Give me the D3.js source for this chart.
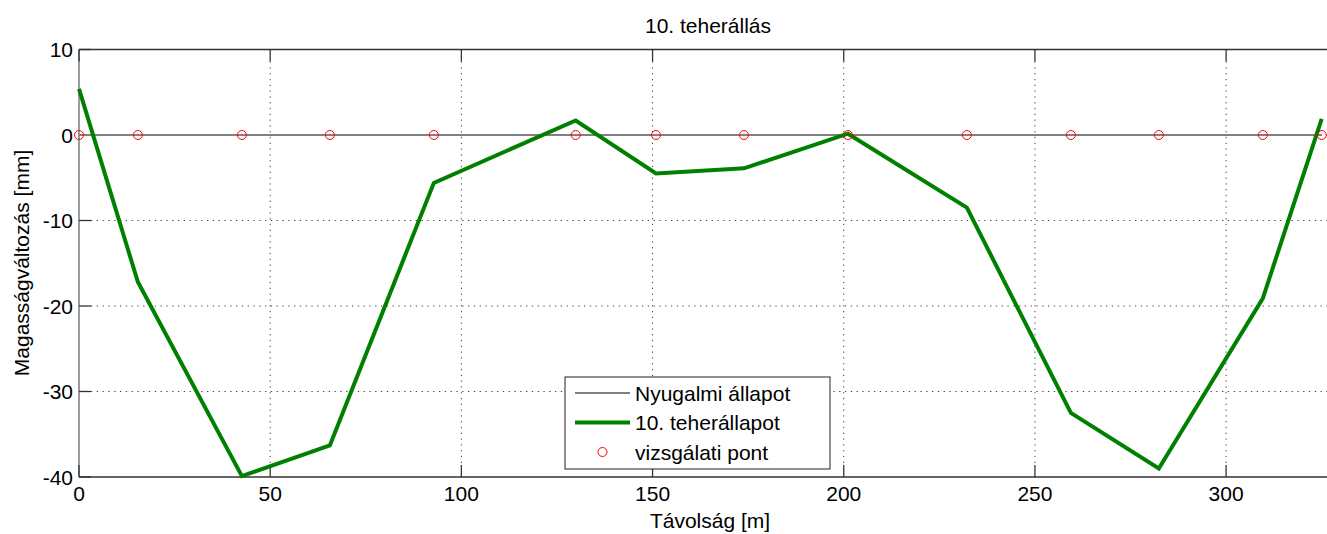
<!DOCTYPE html>
<html>
<head>
<meta charset="utf-8">
<script src="https://cdn.jsdelivr.net/npm/d3@7"></script>
<style>
	body { margin: 0; background: #fff; }
	svg { display: block; font-family: Arial, 'Liberation Sans', sans-serif; }
	.grid line { stroke: #444; stroke-width: 1; stroke-dasharray: 1.3 4.5; }
</style>
</head>
<body>
<svg id="chart"></svg>
<script>
// survey points along the section [m]
const distances = [0, 15.4, 42.6, 65.6, 92.8, 129.9, 150.9, 173.9, 201.1, 232.2, 259.4, 282.4, 309.6, 325];
// height change under load case 10 [mm]
const loadCase = [5.4, -17.2, -39.9, -36.3, -5.6, 1.7, -4.5, -3.9, 0.15, -8.5, -32.5, -39.0, -19.1, 1.9];
// resting state is zero everywhere
const rest = [0, 0, 0, 0, 0, 0, 0, 0, 0, 0, 0, 0, 0, 0];
const xTicks = [0, 50, 100, 150, 200, 250, 300];
const yTicks = [10, 0, -10, -20, -30, -40];
const seriesNames = ['Nyugalmi állapot', '10. teherállapot', 'vizsgálati pont'];

function onLoad () {
	const width = 1327, height = 534;
	const margin = { top: 49.5, right: -10, bottom: 57, left: 79 };
	const svg = d3.select('#chart').attr('width', width).attr('height', height);

	const x = d3.scaleLinear().domain([0, 329]).range([margin.left, width - margin.right]);
	const y = d3.scaleLinear().domain([-40, 10]).range([height - margin.bottom, margin.top]);
	const tickLen = 12;
	const fs = 21;

	// GRID
	const grid = svg.append('g').attr('class', 'grid');
	grid.selectAll('line.gx').data(xTicks.filter(d => d > 0)).join('line')
		.attr('class', 'gx')
		.attr('x1', d => x(d)).attr('x2', d => x(d))
		.attr('y1', y(10) + tickLen).attr('y2', y(-40) - tickLen);
	grid.selectAll('line.gy').data(yTicks.filter(d => d > -40 && d < 10)).join('line')
		.attr('class', 'gy')
		.attr('x1', x(0) + tickLen).attr('x2', width)
		.attr('y1', d => y(d)).attr('y2', d => y(d));

	// AXES BOX
	const frame = svg.append('g').attr('stroke', '#333').attr('stroke-width', 1.3);
	frame.append('line').attr('x1', x(0)).attr('x2', width).attr('y1', y(10)).attr('y2', y(10));
	frame.append('line').attr('x1', x(0)).attr('x2', width).attr('y1', y(-40)).attr('y2', y(-40));
	frame.append('line').attr('x1', x(0)).attr('x2', x(0)).attr('y1', y(10)).attr('y2', y(-40)).attr('stroke', '#666');

	// ticks (inward, top and bottom)
	frame.selectAll('line.tb').data(xTicks).join('line')
		.attr('class', 'tb')
		.attr('x1', d => x(d)).attr('x2', d => x(d))
		.attr('y1', y(-40)).attr('y2', y(-40) - tickLen);
	frame.selectAll('line.tt').data(xTicks).join('line')
		.attr('class', 'tt')
		.attr('x1', d => x(d)).attr('x2', d => x(d))
		.attr('y1', y(10)).attr('y2', y(10) + tickLen);
	frame.selectAll('line.tl').data(yTicks).join('line')
		.attr('class', 'tl')
		.attr('x1', x(0)).attr('x2', x(0) + tickLen)
		.attr('y1', d => y(d)).attr('y2', d => y(d));

	// tick labels
	svg.append('g').selectAll('text').data(xTicks).join('text')
		.attr('x', d => x(d)).attr('y', y(-40) + 24)
		.attr('text-anchor', 'middle')
		.style('font-size', fs + 'px')
		.text(d => d);
	svg.append('g').selectAll('text').data(yTicks).join('text')
		.attr('x', x(0) - 6).attr('y', d => y(d) + 7.5)
		.attr('text-anchor', 'end')
		.style('font-size', fs + 'px')
		.text(d => d);

	// SERIES
	const line = d3.line().x(d => x(d[0])).y(d => y(d[1]));
	svg.append('path')
		.attr('d', line(d3.zip(distances, rest)))
		.attr('fill', 'none').attr('stroke', '#808080').attr('stroke-width', 2);
	svg.append('path')
		.attr('d', line(d3.zip(distances, loadCase)))
		.attr('fill', 'none').attr('stroke', '#008000').attr('stroke-width', 4)
		.attr('stroke-linejoin', 'miter');
	svg.append('g').selectAll('circle').data(d3.zip(distances, rest)).join('circle')
		.attr('cx', d => x(d[0])).attr('cy', d => y(d[1])).attr('r', 4.5)
		.attr('fill', 'none').attr('stroke', '#ff0000').attr('stroke-width', 1);

	// TITLE AND LABELS
	svg.append('text')
		.attr('x', 708).attr('y', 33)
		.attr('text-anchor', 'middle')
		.style('font-size', fs + 'px')
		.text('10. teherállás');
	svg.append('text')
		.attr('x', 710).attr('y', 528)
		.attr('text-anchor', 'middle')
		.style('font-size', fs + 'px')
		.text('Távolság [m]');
	svg.append('text')
		.attr('transform', `translate(${[29, 263]})rotate(-90)`)
		.attr('text-anchor', 'middle')
		.style('font-size', fs + 'px')
		.text('Magasságváltozás [mm]');

	// LEGEND
	const lg = svg.append('g').attr('transform', 'translate(565,377)');
	lg.append('rect').attr('width', 265).attr('height', 92)
		.attr('fill', '#fff').attr('stroke', '#222').attr('stroke-width', 1);
	const rows = lg.selectAll('g.row').data(seriesNames).join('g')
		.attr('class', 'row')
		.attr('transform', (d, i) => `translate(0,${16 + i * 29.5})`);
	rows.filter((d, i) => i === 0).append('line')
		.attr('x1', 10).attr('x2', 65).attr('stroke', '#808080').attr('stroke-width', 2);
	rows.filter((d, i) => i === 1).append('line')
		.attr('x1', 10).attr('x2', 65).attr('stroke', '#008000').attr('stroke-width', 4);
	rows.filter((d, i) => i === 2).append('circle')
		.attr('cx', 37.5).attr('r', 4.5)
		.attr('fill', 'none').attr('stroke', '#ff0000').attr('stroke-width', 1);
	rows.append('text')
		.attr('x', 70).attr('y', 7.5)
		.style('font-size', fs + 'px')
		.text(d => d);
}

onLoad();
</script>
</body>
</html>
